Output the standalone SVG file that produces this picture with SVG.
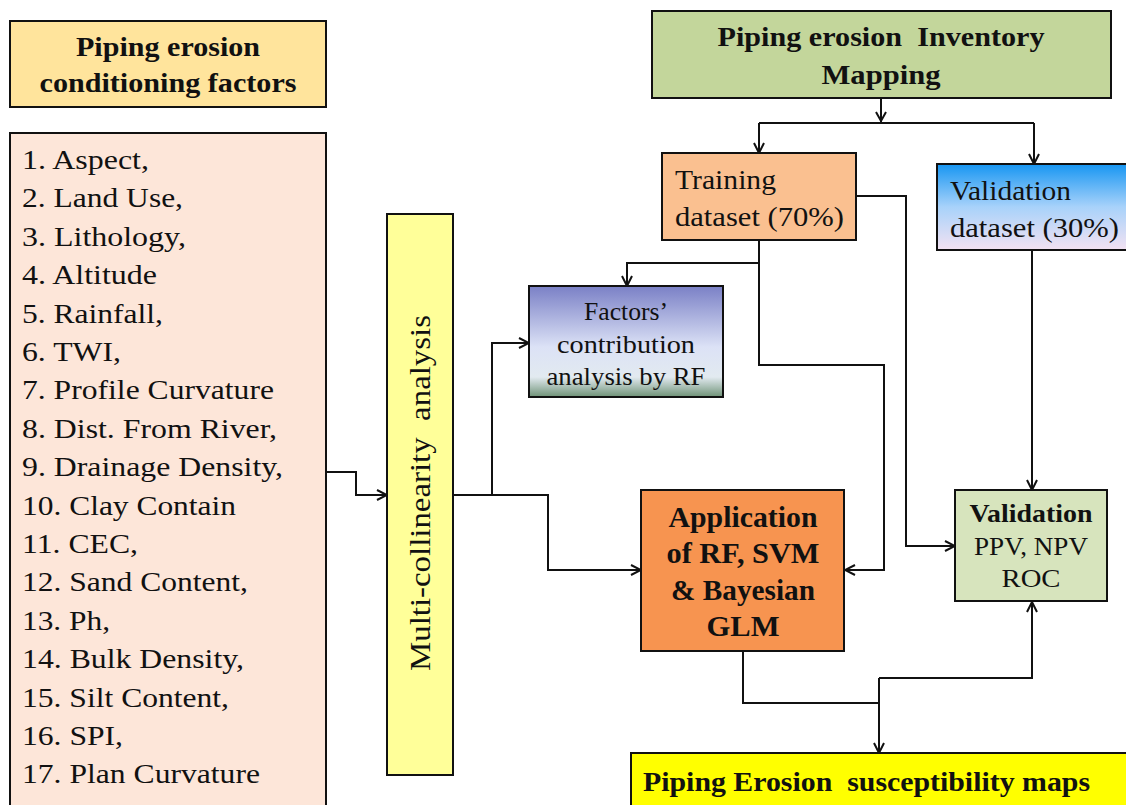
<svg xmlns="http://www.w3.org/2000/svg" width="1126" height="805" viewBox="0 0 1126 805">
<defs>
<style>
.box{stroke:#111;stroke-width:2}
text{font-family:'Liberation Serif','Times New Roman','DejaVu Serif',serif;fill:#111}
.b{font-weight:bold}
.c{stroke:#111;stroke-width:2;fill:none}
</style>
<marker id="ah" viewBox="0 0 12 12" refX="11" refY="6" markerWidth="12" markerHeight="12" markerUnits="userSpaceOnUse" orient="auto">
<path d="M1,1 L11,6 L1,11" fill="none" stroke="#111" stroke-width="2"/>
</marker>
<linearGradient id="gF" x1="0" y1="0" x2="0" y2="1">
<stop offset="0" stop-color="#7A80C6"/>
<stop offset="0.55" stop-color="#DCE2F6"/>
<stop offset="0.82" stop-color="#E2EAF0"/>
<stop offset="1" stop-color="#6E9276"/>
</linearGradient>
<linearGradient id="gV" x1="0" y1="0" x2="0" y2="1">
<stop offset="0" stop-color="#1796F2"/>
<stop offset="0.5" stop-color="#A8D2FA"/>
<stop offset="1" stop-color="#F3E2F2"/>
</linearGradient>
</defs>
<rect width="1126" height="805" fill="#fff"/>

<g id="connectors">
<polyline class="c" points="326,472 356,472 356,495 387,495" marker-end="url(#ah)"/>
<polyline class="c" points="453,495 492,495 492,343 529,343" marker-end="url(#ah)"/>
<polyline class="c" points="492,495 548,495 548,570 641,570" marker-end="url(#ah)"/>
<line class="c" x1="881" y1="98" x2="881" y2="123"/>
<path d="M876,112 L881,121 L886,112" fill="none" stroke="#111" stroke-width="2"/>
<polyline class="c" points="759,123 1034,123"/>
<line class="c" x1="759" y1="123" x2="759" y2="153" marker-end="url(#ah)"/>
<line class="c" x1="1034" y1="123" x2="1034" y2="164" marker-end="url(#ah)"/>
<polyline class="c" points="759,240 759,263 627,263 627,286" marker-end="url(#ah)"/>
<polyline class="c" points="759,263 759,365 884,365 884,570 845,570" marker-end="url(#ah)"/>
<polyline class="c" points="856,196 906,196 906,546 955,546" marker-end="url(#ah)"/>
<line class="c" x1="1032" y1="250" x2="1032" y2="490" marker-end="url(#ah)"/>
<polyline class="c" points="743,651 743,703 879,703"/>
<line class="c" x1="879" y1="678" x2="879" y2="753" marker-end="url(#ah)"/>
<polyline class="c" points="879,678 1032,678 1032,602" marker-end="url(#ah)"/>
</g>

<g id="n-title">
<rect class="box" x="10" y="21" width="316" height="86" fill="#FFE49C"/>
<text class="b" x="168" y="56" font-size="28" text-anchor="middle" textLength="184" lengthAdjust="spacingAndGlyphs">Piping erosion</text>
<text class="b" x="168" y="92" font-size="28" text-anchor="middle" textLength="257" lengthAdjust="spacingAndGlyphs">conditioning factors</text>
</g>

<g id="n-factors-list" font-size="28">
<rect class="box" x="10" y="133" width="316" height="690" fill="#FDE6D9"/>
<text x="22" y="169" textLength="127" lengthAdjust="spacingAndGlyphs">1. Aspect,</text>
<text x="22" y="207.4" textLength="161" lengthAdjust="spacingAndGlyphs">2. Land Use,</text>
<text x="22" y="245.8" textLength="164" lengthAdjust="spacingAndGlyphs">3. Lithology,</text>
<text x="22" y="284.2" textLength="135" lengthAdjust="spacingAndGlyphs">4. Altitude</text>
<text x="22" y="322.6" textLength="141" lengthAdjust="spacingAndGlyphs">5. Rainfall,</text>
<text x="22" y="361" textLength="99" lengthAdjust="spacingAndGlyphs">6. TWI,</text>
<text x="22" y="399.4" textLength="252" lengthAdjust="spacingAndGlyphs">7. Profile Curvature</text>
<text x="22" y="437.8" textLength="255" lengthAdjust="spacingAndGlyphs">8. Dist. From River,</text>
<text x="22" y="476.2" textLength="261" lengthAdjust="spacingAndGlyphs">9. Drainage Density,</text>
<text x="22" y="514.6" textLength="214" lengthAdjust="spacingAndGlyphs">10. Clay Contain</text>
<text x="22" y="553" textLength="116" lengthAdjust="spacingAndGlyphs">11. CEC,</text>
<text x="22" y="591.4" textLength="226" lengthAdjust="spacingAndGlyphs">12. Sand Content,</text>
<text x="22" y="629.8" textLength="88" lengthAdjust="spacingAndGlyphs">13. Ph,</text>
<text x="22" y="668.2" textLength="222" lengthAdjust="spacingAndGlyphs">14. Bulk Density,</text>
<text x="22" y="706.6" textLength="207" lengthAdjust="spacingAndGlyphs">15. Silt Content,</text>
<text x="22" y="745" textLength="101" lengthAdjust="spacingAndGlyphs">16. SPI,</text>
<text x="22" y="783.4" textLength="238" lengthAdjust="spacingAndGlyphs">17. Plan Curvature</text>
</g>

<g id="n-multicollinearity">
<rect class="box" x="387" y="214" width="66" height="561" fill="#FFFF99"/>
<text font-size="30" text-anchor="middle" transform="translate(430,493) rotate(-90)" xml:space="preserve" textLength="356" lengthAdjust="spacingAndGlyphs">Multi-collinearity  analysis</text>
</g>

<g id="n-inventory">
<rect class="box" x="652" y="11" width="459" height="87" fill="#C3D69B"/>
<text class="b" x="881" y="46" font-size="28" text-anchor="middle" xml:space="preserve" textLength="327" lengthAdjust="spacingAndGlyphs">Piping erosion  Inventory</text>
<text class="b" x="881" y="84" font-size="28" text-anchor="middle" textLength="119" lengthAdjust="spacingAndGlyphs">Mapping</text>
</g>

<g id="n-training">
<rect class="box" x="662" y="153" width="194" height="87" fill="#FAC090"/>
<text x="675" y="189" font-size="28" textLength="101" lengthAdjust="spacingAndGlyphs">Training</text>
<text x="675" y="226" font-size="28" textLength="169" lengthAdjust="spacingAndGlyphs">dataset (70%)</text>
</g>

<g id="n-validation-dataset">
<rect class="box" x="937" y="164" width="200" height="86" fill="url(#gV)"/>
<text x="950" y="200" font-size="28" textLength="121" lengthAdjust="spacingAndGlyphs">Validation</text>
<text x="950" y="237" font-size="28" textLength="169" lengthAdjust="spacingAndGlyphs">dataset (30%)</text>
</g>

<g id="n-factors-contribution">
<rect class="box" x="529" y="286" width="194" height="111" fill="url(#gF)"/>
<text x="626" y="320" font-size="25" text-anchor="middle" textLength="84" lengthAdjust="spacingAndGlyphs">Factors’</text>
<text x="626" y="353" font-size="25" text-anchor="middle" textLength="138" lengthAdjust="spacingAndGlyphs">contribution</text>
<text x="626" y="385" font-size="25" text-anchor="middle" textLength="159" lengthAdjust="spacingAndGlyphs">analysis by RF</text>
</g>

<g id="n-application">
<rect class="box" x="641" y="490" width="203" height="161" fill="#F79450"/>
<text class="b" x="743" y="527" font-size="30" text-anchor="middle" textLength="149" lengthAdjust="spacingAndGlyphs">Application</text>
<text class="b" x="743" y="563" font-size="30" text-anchor="middle" textLength="153" lengthAdjust="spacingAndGlyphs">of RF, SVM</text>
<text class="b" x="743" y="600" font-size="30" text-anchor="middle" textLength="144" lengthAdjust="spacingAndGlyphs">&amp; Bayesian</text>
<text class="b" x="743" y="636" font-size="30" text-anchor="middle" textLength="73" lengthAdjust="spacingAndGlyphs">GLM</text>
</g>

<g id="n-validation">
<rect class="box" x="955" y="490" width="152" height="111" fill="#D7E4BD"/>
<text class="b" x="1031" y="522" font-size="26" text-anchor="middle" textLength="123" lengthAdjust="spacingAndGlyphs">Validation</text>
<text x="1031" y="555" font-size="26" text-anchor="middle" textLength="114" lengthAdjust="spacingAndGlyphs">PPV, NPV</text>
<text x="1031" y="587" font-size="26" text-anchor="middle" textLength="59" lengthAdjust="spacingAndGlyphs">ROC</text>
</g>

<g id="n-susceptibility">
<rect class="box" x="631" y="753" width="510" height="60" fill="#FFFF00"/>
<text class="b" x="643" y="791" font-size="28" xml:space="preserve" textLength="447" lengthAdjust="spacingAndGlyphs">Piping Erosion  susceptibility maps</text>
</g>
</svg>
